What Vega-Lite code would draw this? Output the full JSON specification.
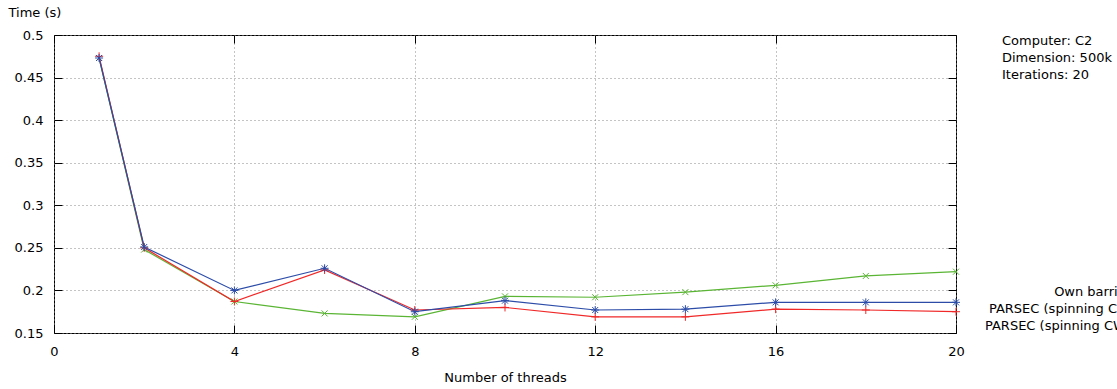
{
  "$schema": "https://vega.github.io/schema/vega-lite/v6.json",
  "width": 902,
  "height": 298,
  "autosize": {"type": "none"},
  "padding": {"left": 54, "top": 35, "right": 161, "bottom": 56},
  "background": "#ffffff",
  "config": {
    "font": "DejaVu Sans",
    "view": {"stroke": "#000000", "strokeWidth": 1},
    "axis": {
      "labelFont": "DejaVu Sans",
      "labelFontSize": 13,
      "labelColor": "#000000",
      "labelFlush": false,
      "titleFont": "DejaVu Sans",
      "titleFontSize": 13,
      "titleFontWeight": "normal",
      "titleColor": "#000000",
      "tickColor": "#000000",
      "tickSize": -8,
      "tickWidth": 1,
      "domain": false,
      "gridColor": "#888888",
      "gridDash": [1, 3],
      "gridOpacity": 1,
      "gridWidth": 1
    },
    "legend": {
      "labelFont": "DejaVu Sans",
      "labelFontSize": 13,
      "labelColor": "#000000",
      "labelLimit": 400
    }
  },
  "title": {
    "text": ["Computer: C2", "Dimension: 500k", "Iterations: 20"],
    "orient": "top",
    "anchor": "end",
    "frame": "group",
    "align": "left",
    "baseline": "top",
    "dx": 46,
    "dy": 76,
    "offset": 0,
    "font": "DejaVu Sans",
    "fontSize": 13,
    "fontWeight": "normal",
    "color": "#000000",
    "lineHeight": 17
  },
  "data": {
    "values": [
      {"threads": 1, "time": 0.473, "series": "PARSEC (spinning CV)"},
      {"threads": 2, "time": 0.248, "series": "PARSEC (spinning CV)"},
      {"threads": 4, "time": 0.187, "series": "PARSEC (spinning CV)"},
      {"threads": 6, "time": 0.173, "series": "PARSEC (spinning CV)"},
      {"threads": 8, "time": 0.169, "series": "PARSEC (spinning CV)"},
      {"threads": 10, "time": 0.193, "series": "PARSEC (spinning CV)"},
      {"threads": 12, "time": 0.192, "series": "PARSEC (spinning CV)"},
      {"threads": 14, "time": 0.198, "series": "PARSEC (spinning CV)"},
      {"threads": 16, "time": 0.206, "series": "PARSEC (spinning CV)"},
      {"threads": 18, "time": 0.217, "series": "PARSEC (spinning CV)"},
      {"threads": 20, "time": 0.222, "series": "PARSEC (spinning CV)"},
      {"threads": 1, "time": 0.475, "series": "Own barrier"},
      {"threads": 2, "time": 0.250, "series": "Own barrier"},
      {"threads": 4, "time": 0.187, "series": "Own barrier"},
      {"threads": 6, "time": 0.224, "series": "Own barrier"},
      {"threads": 8, "time": 0.177, "series": "Own barrier"},
      {"threads": 10, "time": 0.180, "series": "Own barrier"},
      {"threads": 12, "time": 0.169, "series": "Own barrier"},
      {"threads": 14, "time": 0.169, "series": "Own barrier"},
      {"threads": 16, "time": 0.178, "series": "Own barrier"},
      {"threads": 18, "time": 0.177, "series": "Own barrier"},
      {"threads": 20, "time": 0.175, "series": "Own barrier"},
      {"threads": 1, "time": 0.473, "series": "PARSEC (spinning CW)"},
      {"threads": 2, "time": 0.251, "series": "PARSEC (spinning CW)"},
      {"threads": 4, "time": 0.200, "series": "PARSEC (spinning CW)"},
      {"threads": 6, "time": 0.226, "series": "PARSEC (spinning CW)"},
      {"threads": 8, "time": 0.175, "series": "PARSEC (spinning CW)"},
      {"threads": 10, "time": 0.188, "series": "PARSEC (spinning CW)"},
      {"threads": 12, "time": 0.177, "series": "PARSEC (spinning CW)"},
      {"threads": 14, "time": 0.178, "series": "PARSEC (spinning CW)"},
      {"threads": 16, "time": 0.186, "series": "PARSEC (spinning CW)"},
      {"threads": 18, "time": 0.186, "series": "PARSEC (spinning CW)"},
      {"threads": 20, "time": 0.186, "series": "PARSEC (spinning CW)"}
    ]
  },
  "layer": [
    {
      "mark": {"type": "line", "strokeWidth": 1.2},
      "encoding": {
        "x": {
          "field": "threads", "type": "quantitative",
          "scale": {"domain": [0, 20], "nice": false, "zero": false},
          "axis": {
            "orient": "bottom",
            "values": [0, 4, 8, 12, 16, 20],
            "grid": true,
            "labelPadding": 20,
            "title": "Number of threads",
            "titlePadding": 13
          }
        },
        "y": {
          "field": "time", "type": "quantitative",
          "scale": {"domain": [0.15, 0.5], "nice": false, "zero": false},
          "axis": {
            "orient": "left",
            "values": [0.15, 0.2, 0.25, 0.3, 0.35, 0.4, 0.45, 0.5],
            "format": ".2~f",
            "grid": true,
            "labelPadding": 19,
            "title": "Time (s)",
            "titleAngle": 0,
            "titleAlign": "left",
            "titleBaseline": "middle",
            "titleX": -46,
            "titleY": -23
          }
        },
        "color": {
          "field": "series", "type": "nominal",
          "scale": {
            "domain": ["Own barrier", "PARSEC (spinning CV)", "PARSEC (spinning CW)"],
            "range": ["#f02828", "#5ab534", "#2c4ca8"]
          },
          "legend": {
            "orient": "none",
            "legendX": 1060,
            "legendY": 250,
            "title": null,
            "labelAlign": "right",
            "symbolOpacity": 0,
            "symbolStrokeWidth": 0,
            "symbolSize": 100,
            "rowPadding": 3
          }
        }
      }
    },
    {
      "mark": {"type": "point", "filled": false, "strokeWidth": 1, "size": 64, "opacity": 1},
      "encoding": {
        "x": {
          "field": "threads", "type": "quantitative",
          "axis": {
            "orient": "top",
            "values": [0, 4, 8, 12, 16, 20],
            "labels": false,
            "grid": false,
            "title": null
          }
        },
        "y": {
          "field": "time", "type": "quantitative",
          "axis": {
            "orient": "right",
            "values": [0.15, 0.2, 0.25, 0.3, 0.35, 0.4, 0.45, 0.5],
            "labels": false,
            "grid": false,
            "title": null
          }
        },
        "color": {"field": "series", "type": "nominal", "legend": null},
        "shape": {
          "field": "series", "type": "nominal",
          "scale": {
            "domain": ["Own barrier", "PARSEC (spinning CV)", "PARSEC (spinning CW)"],
            "range": [
              "M-1,0L1,0M0,-1L0,1",
              "M-0.75,-0.75L0.75,0.75M-0.75,0.75L0.75,-0.75",
              "M-1,0L1,0M0,-1L0,1M-0.75,-0.75L0.75,0.75M-0.75,0.75L0.75,-0.75"
            ]
          },
          "legend": null
        }
      }
    }
  ],
  "resolve": {"axis": {"x": "independent", "y": "independent"}}
}
